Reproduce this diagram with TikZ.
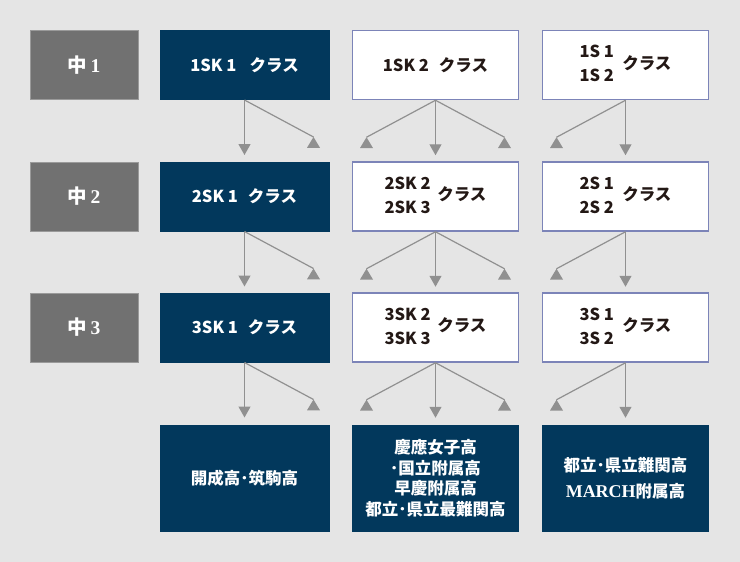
\documentclass[tikz,border=0pt]{standalone}
\usepackage{fontspec}
\setmainfont{Noto Sans CJK JP}
\newfontfamily\lser{Liberation Serif}
\usetikzlibrary{arrows.meta}
\definecolor{bg}{HTML}{E5E5E5}
\definecolor{gbox}{HTML}{717171}
\definecolor{gedge}{HTML}{9A9A9A}
\definecolor{navy}{HTML}{02385C}
\definecolor{wborder}{HTML}{7C84B8}
\definecolor{arr}{HTML}{909090}
\definecolor{txt}{HTML}{231815}
\tikzset{
  base/.style={rectangle, inner sep=0pt, minimum height=69pt, line width=1pt},
  gradebox/.style={base, fill=gbox, draw=gedge, minimum width=108pt, text=white,
    font=\fontsize{19.5}{22}\selectfont\bfseries},
  navybox/.style={base, fill=navy, draw=navy, minimum width=169pt, text=white,
    font=\fontsize{16.5}{24}\selectfont\bfseries},
  whitebox/.style={base, fill=white, draw=wborder, line width=1.5pt, minimum width=166pt, text=txt,
    font=\fontsize{16.5}{24}\selectfont\bfseries},
  goalbox/.style={base, fill=navy, draw=navy, minimum height=106pt, text=white, align=center,
    font=\fontsize{16.5}{20.5}\selectfont\bfseries},
  arrline/.style={draw=arr, line width=1.2pt},
  downarr/.style={arrline, -{Triangle[width=12pt,length=11pt]}},
  uptri/.pic={\fill[arr] (0,0) -- (-6.5,10.8) -- (6.5,10.8) -- cycle;}
}
\newcommand{\twol}[2]{\begin{tabular}{@{}l@{}}#1\\#2\end{tabular}}
\begin{document}
\begin{tikzpicture}[x=1pt,y=-1pt]
\fill[bg] (0,0) rectangle (740,562);
\useasboundingbox (0,0) rectangle (740,562);
% grade labels
\node[gradebox] (g1) at (84,65) {中\,{\lser 1}};
\node[gradebox] (g2) at (84,196.5) {中\,{\lser 2}};
\node[gradebox] (g3) at (84,327.5) {中\,{\lser 3}};
% row 1
\node[navybox] (a1) at (244.5,65) {1SK 1\hspace{0.8em}クラス};
\node[whitebox] (b1) at (435.5,65) {1SK 2\hspace{0.6em}クラス};
\node[whitebox] (c1) at (625.5,65) {\twol{1S 1}{1S 2}\hspace{0.5em}クラス};
% row 2
\node[navybox] (a2) at (244.5,196.5) {2SK 1\hspace{0.6em}クラス};
\node[whitebox] (b2) at (435.5,196.5) {\twol{2SK 2}{2SK 3}\hspace{0.4em}クラス};
\node[whitebox] (c2) at (625.5,196.5) {\twol{2S 1}{2S 2}\hspace{0.5em}クラス};
% row 3
\node[navybox] (a3) at (244.5,327.5) {3SK 1\hspace{0.6em}クラス};
\node[whitebox] (b3) at (435.5,327.5) {\twol{3SK 2}{3SK 3}\hspace{0.4em}クラス};
\node[whitebox] (c3) at (625.5,327.5) {\twol{3S 1}{3S 2}\hspace{0.5em}クラス};
% goals
\node[goalbox, minimum width=169pt] (a4) at (244.5,478) {開成高･筑駒高};
\node[goalbox, minimum width=166pt] (b4) at (435.5,478) {慶應女子高\\･国立附属高\\早慶附属高\\都立･県立最難関高};
\node[goalbox, minimum width=166pt, font=\fontsize{16.5}{26}\selectfont\bfseries] (c4) at (625.5,478) {都立･県立難関高\\{\lser\fontsize{18}{26}\selectfont MARCH}附属高};
% arrows
\foreach \s in {a1,a2,a3}{
  \draw[downarr] (\s.south) -- ++(0,55);
  \draw[arrline] (\s.south) -- ++(69,37) coordinate (\s r) pic{uptri};
}
\foreach \s in {b1,b2,b3}{
  \draw[downarr] (\s.south) -- ++(0,55);
  \draw[arrline] (\s.south) -- ++(69,37) coordinate (\s r) pic{uptri};
  \draw[arrline] (\s.south) -- ++(-69,37) coordinate (\s l) pic{uptri};
}
\foreach \s in {c1,c2,c3}{
  \draw[downarr] (\s.south) -- ++(0,55);
  \draw[arrline] (\s.south) -- ++(-69,37) coordinate (\s l) pic{uptri};
}
\end{tikzpicture}
\end{document}
